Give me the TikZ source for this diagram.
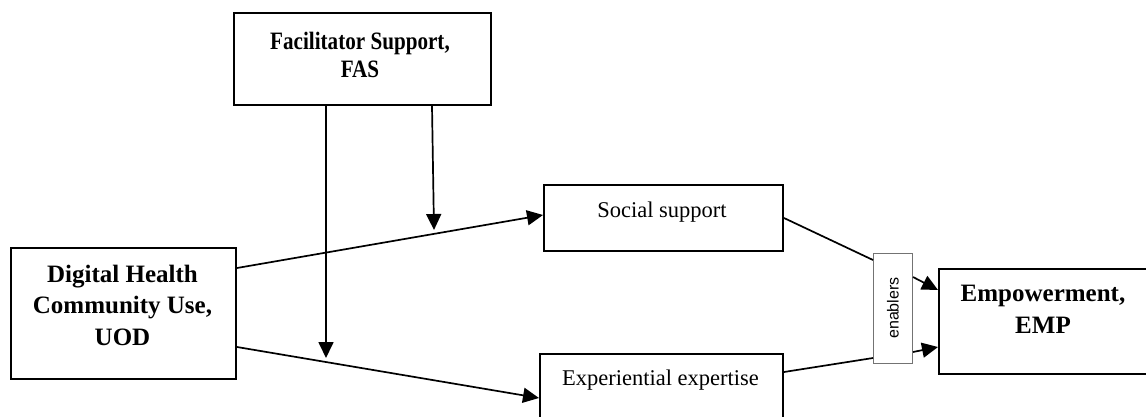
\documentclass[tikz,border=0pt]{standalone}
\usepackage{fontspec}
\setmainfont{Liberation Serif}
\newfontfamily\enfont{Liberation Sans}
\usetikzlibrary{arrows.meta}
\newcommand{\narrowtext}[1]{\scalebox{0.845}[1]{#1}}
\begin{document}
\begin{tikzpicture}[x=1pt,y=-1pt,
  box/.style={draw, line width=2pt, anchor=north west, inner sep=0pt},
  thinbox/.style={draw=black!55, line width=1pt, anchor=north west, inner sep=0pt},
  conn/.style={line width=1.7pt},
  arr/.style={conn, -{Triangle[length=16pt,width=15pt]}},
  txt/.style={align=center, anchor=base, inner sep=0pt},
  bigbold/.style={txt, font=\fontsize{25}{31.5}\selectfont\bfseries},
  midbold/.style={txt, font=\fontsize{25}{28}\selectfont\bfseries},
  plain/.style={txt, font=\fontsize{22.5}{27}\selectfont},
]
\useasboundingbox (0,0) rectangle (1146,416);
\clip (0,0) rectangle (1146,416);

% boxes
\node[box, minimum width=257pt, minimum height=92pt] (fas) at (233,12) {};
\node[box, minimum width=225pt, minimum height=131pt] (uod) at (10,247) {};
\node[box, minimum width=239pt, minimum height=66pt] (soc) at (543,184) {};
\node[box, minimum width=243pt, minimum height=80pt] (exp) at (539,353) {};
\node[box, minimum width=230pt, minimum height=105pt] (emp) at (938,268) {};
\node[thinbox, minimum width=39pt, minimum height=110pt] (enab) at (873,253) {};

% labels (multi-line nodes are anchored at the baseline of their last line)
\node[midbold] (fasT) at (360,77) {\narrowtext{Facilitator Support,}\\\narrowtext{FAS}};
\node[bigbold] (uodT) at (122.5,345) {Digital Health\\Community Use,\\UOD};
\node[bigbold] (empT) at (1043,333) {Empowerment,\\EMP};
\node[plain] (socT) at (662,217) {Social support};
\node[plain] (expT) at (660.5,385) {Experiential expertise};
\node[rotate=90, inner sep=0pt, font=\enfont\fontsize{16}{18}\selectfont] (enabT) at (893,308) {enablers};

% moderation targets on the paths
\coordinate (m1) at (326,358);
\coordinate (m2) at (434,230);

% paths from UOD to the two mediators
\draw[arr] ([yshift=-21pt]uod.north east) -- ([yshift=3pt]soc.west);
\draw[arr] ([yshift=33pt]uod.south east) -- ([yshift=-4pt]exp.west);

% facilitator support moderation
\draw[arr] ([xshift=93pt]fas.south west) -- (m1);
\draw[arr] ([xshift=199pt]fas.south west) -- (m2);

% mediators through enablers to empowerment
\draw[conn] (soc.east) -- ([yshift=-7pt]enab.north west);
\draw[arr] ([yshift=-24pt]enab.north east) -- ([yshift=-22pt]emp.north west);
\draw[conn] ([yshift=-19pt]exp.north east) -- ([yshift=6pt]enab.south west);
\draw[arr] ([yshift=12pt]enab.south east) -- ([yshift=-79pt]emp.north west);
\end{tikzpicture}
\end{document}
